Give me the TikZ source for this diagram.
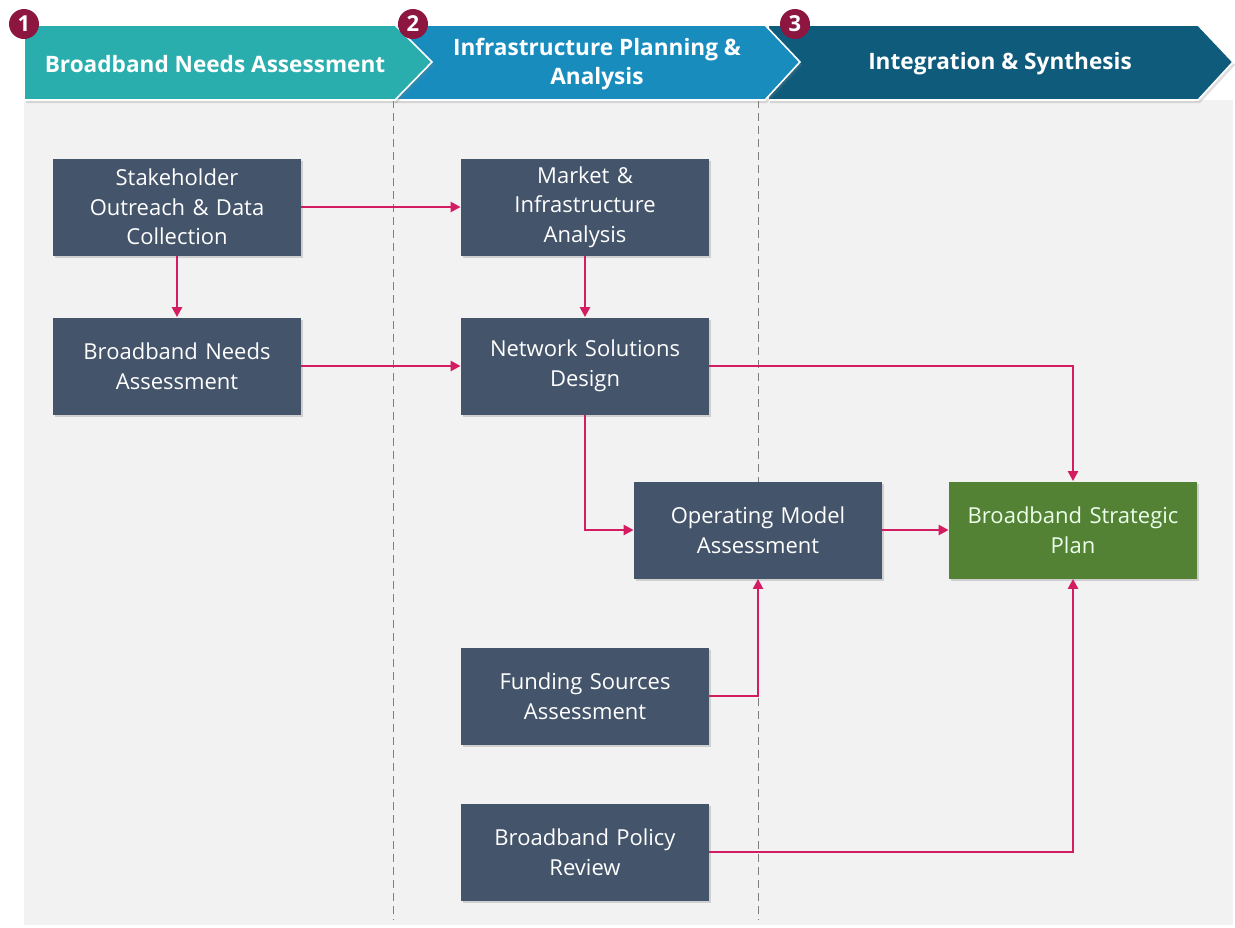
\documentclass[tikz,border=0pt]{standalone}
\usepackage{fontspec}
\setmainfont{Open Sans}
\usetikzlibrary{arrows.meta,shadows}

\definecolor{panelgray}{HTML}{F2F2F2}
\definecolor{phaseone}{HTML}{29ADAD}
\definecolor{phasetwo}{HTML}{198CBE}
\definecolor{phasethree}{HTML}{0E5B7C}
\definecolor{badgered}{HTML}{8C1640}
\definecolor{boxslate}{HTML}{44546A}
\definecolor{plangreen}{HTML}{548235}
\definecolor{linkpink}{HTML}{D41C62}
\definecolor{guidegray}{HTML}{7F7F7F}

\begin{document}
\begin{tikzpicture}[x=0.5pt, y=-0.5pt,
    box/.style={fill=boxslate, text=white, minimum width=124pt, minimum height=48.5pt,
      text width=118pt, align=center, inner sep=0pt,
      font=\fontsize{11}{14.75}\selectfont,
      drop shadow={shadow xshift=1.2pt, shadow yshift=-1.2pt, opacity=0.3}},
    link/.style={draw=linkpink, line width=1.2pt, -{Triangle[length=5pt, width=5pt]}},
    badge/.style={circle, fill=badgered, text=white, minimum size=15pt, inner sep=0pt,
      font=\bfseries\fontsize{11}{11}\selectfont},
    head/.style={text=white, align=center, font=\bfseries\fontsize{11.3}{14.5}\selectfont},
    chevron/.style={draw=white, line width=0.8pt,
      drop shadow={shadow xshift=1pt, shadow yshift=-1.5pt, opacity=0.25}}]
    \useasboundingbox (0, 0) rectangle (1235, 927);

    % background and phase guides
    \fill[panelgray] (24, 100) rectangle (1233, 925);
    \draw[guidegray, dash pattern=on 4pt off 2.5pt] (393, 100) -- (393, 920);
    \draw[guidegray, dash pattern=on 4pt off 2.5pt] (758, 100) -- (758, 920);

    % phase banners
    \fill[phasethree, chevron] (768, 25) -- (1198, 25) -- (1233, 62) -- (1198, 100) -- (768, 100) -- cycle;
    \fill[phasetwo, chevron] (393, 25) -- (765, 25) -- (800, 62) -- (765, 100) -- (393, 100) -- cycle;
    \fill[phaseone, chevron] (24, 25) -- (395, 25) -- (432, 62) -- (395, 100) -- (24, 100) -- cycle;

    \node[head] (h1) at (215, 64) {Broadband Needs Assessment};
    \node[head] (h2) at (597, 64) {Infrastructure Planning \&\\Analysis};
    \node[head] (h3) at (1000, 64) {Integration \& Synthesis};

    \node[badge] (b1) at (24, 24) {1};
    \node[badge] (b2) at (413, 24) {2};
    \node[badge] (b3) at (795, 24) {3};

    % work streams
    \node[box] (stake) at (177, 207) {Stakeholder\\Outreach \& Data\\Collection};
    \node[box] (needs) at (177, 366) {Broadband Needs\\Assessment};
    \node[box] (market) at (585, 207) {Market \&\\Infrastructure\\Analysis};
    \node[box] (netdesign) at (585, 366) {Network Solutions\\Design};
    \node[box] (opmodel) at (758, 530) {Operating Model\\Assessment};
    \node[box, fill=plangreen, text=green!8] (plan) at (1073, 530) {Broadband Strategic\\Plan};
    \node[box] (funding) at (585, 696) {Funding Sources\\Assessment};
    \node[box] (policy) at (585, 852) {Broadband Policy\\Review};

    \draw[link] (stake) -- (market);
    \draw[link] (stake) -- (needs);
    \draw[link] (market) -- (netdesign);
    \draw[link] (needs) -- (netdesign);
    \draw[link] (netdesign.east) -| (plan.north);
    \draw[link] (netdesign.south) |- (opmodel.west);
    \draw[link] (opmodel) -- (plan);
    \draw[link] (funding.east) -| (opmodel.south);
    \draw[link] (policy.east) -| (plan.south);
\end{tikzpicture}
\end{document}
